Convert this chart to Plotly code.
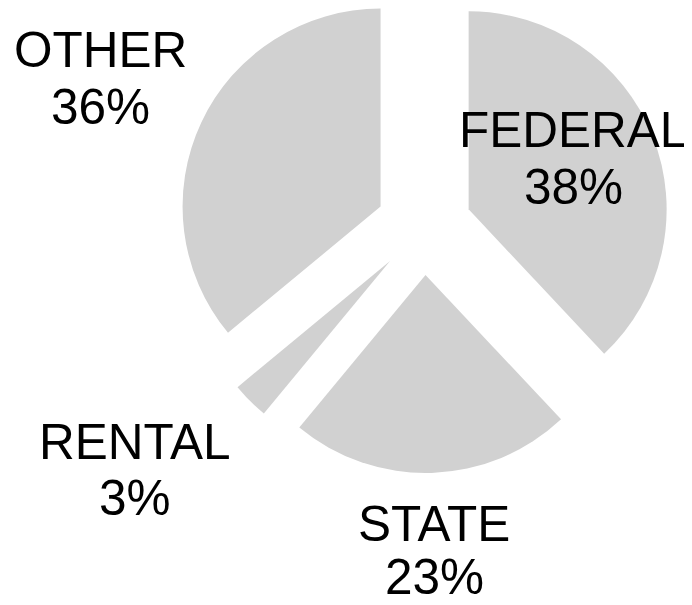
import math
import plotly.graph_objects as go

# ---- data ----
labels = ["FEDERAL", "STATE", "RENTAL", "OTHER"]
values = [38, 23, 3, 36]

# ---- layout / style constants ----
W, H = 684, 597          # figure size (page body adds an 8px margin)
OFF = 8                  # body margin offset of the page
CENTER = (424 - OFF, 227 - OFF)   # pixel centre of the un-exploded pie
RADIUS = 198             # pie radius in px
EXPLODE = 48             # explode distance in px
FILL = "#d1d1d1"
FONT = dict(family="Liberation Sans, Arial, sans-serif", size=49.5, color="black")
# label placement in page pixels: (x centre, y middle of name line, y middle of percent line)
label_px = {
    "FEDERAL": (573, 130, 186),
    "STATE": (434, 523, 576),
    "RENTAL": (135, 441, 497),
    "OTHER": (100, 49, 107),
}

total = sum(values)
fig = go.Figure()
cum = 0.0
for i, (lab, val) in enumerate(zip(labels, values)):
    mid = (cum + val / 2) / total * 2 * math.pi  # clockwise from 12 o'clock
    cum += val
    cx = CENTER[0] + EXPLODE * math.sin(mid)
    cy = CENTER[1] - EXPLODE * math.cos(mid)
    colors = [FILL if j == i else "rgba(0,0,0,0)" for j in range(len(labels))]
    fig.add_trace(go.Pie(
        labels=labels,
        values=values,
        sort=False,
        direction="clockwise",
        rotation=0,
        marker=dict(colors=colors, line=dict(width=0)),
        textinfo="none",
        hoverinfo="skip",
        showlegend=False,
        domain=dict(
            x=[max(0, (cx - RADIUS) / W), min(1, (cx + RADIUS) / W)],
            y=[max(0, 1 - (cy + RADIUS) / H), min(1, 1 - (cy - RADIUS) / H)],
        ),
    ))

annotations = []
for lab, val in zip(labels, values):
    px, py1, py2 = label_px[lab]
    for txt, py in ((lab, py1), (f"{val}%", py2)):
        annotations.append(dict(
            x=(px - OFF) / W, y=1 - (py - OFF) / H, xref="paper", yref="paper",
            text=txt, showarrow=False,
            xanchor="center", yanchor="middle", align="center",
            font=FONT, borderpad=0,
        ))

fig.update_layout(
    width=W, height=H,
    margin=dict(l=0, r=0, t=0, b=0),
    paper_bgcolor="white", plot_bgcolor="white",
    annotations=annotations,
    showlegend=False,
)
fig.write_html("out.html")
